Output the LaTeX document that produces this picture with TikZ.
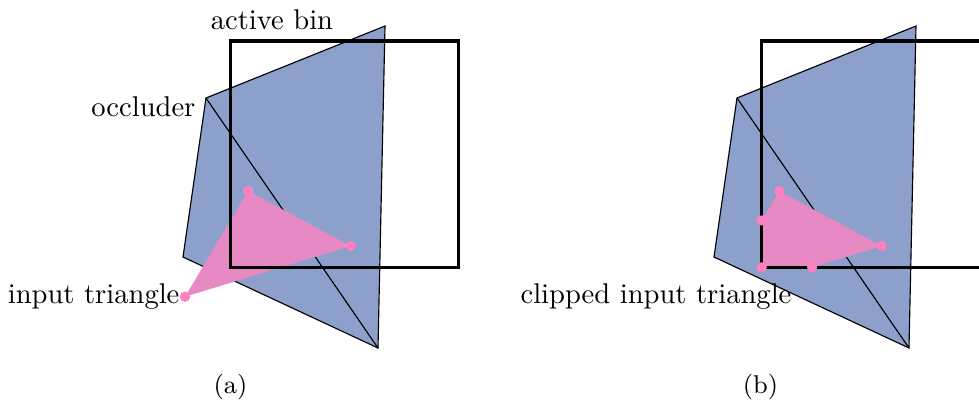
\documentclass[tikz,border=0pt]{standalone}
\usepackage{tikz}
\definecolor{occblue}{HTML}{8CA0CB}
\definecolor{tripink}{HTML}{E78AC3}
\definecolor{dotpink}{HTML}{FF80C0}
\tikzset{
  occ/.style={fill=occblue,draw=black,line width=0.4pt,line join=miter},
  diag/.style={draw=black,line width=0.4pt},
  tri/.style={fill=tripink},
  bin/.style={draw=black,line width=1.1pt},
  vdot/.style={circle,fill=dotpink,inner sep=0pt,minimum size=3.6pt},
  lbl/.style={inner sep=0pt,font=\normalsize},
  captext/.style={inner sep=0pt,font=\small}
}
\begin{document}
\begin{tikzpicture}[x=0.35pt,y=-0.35pt]
\useasboundingbox (0,0) rectangle (979,403);
% ---------- panel (a)
\coordinate (A1) at (206,98);
\coordinate (B1) at (385,26);
\coordinate (C1) at (378,348);
\coordinate (D1) at (183,257);
\fill[occ] (A1) -- (B1) -- (C1) -- (D1) -- cycle;
\draw[diag] (A1) -- (C1);
\coordinate (P1) at (248.3,191);
\coordinate (P2) at (350.7,246);
\coordinate (P3) at (185,296.7);
\fill[tri] (P1) -- (P2) -- (P3) -- cycle;
\coordinate (TL1) at (230.7,41);
\coordinate (BR1) at (458.3,267.3);
\draw[bin] (TL1) rectangle (BR1);
\node[vdot] (d11) at (P1) {};
\node[vdot] (d12) at (P2) {};
\node[vdot] (d13) at (P3) {};
\node[lbl] (lactive) at (272,20) {active bin};
\node[lbl,anchor=east] (locc) at (196,107) {occluder};
\node[lbl,anchor=east] (linput) at (180,297) {input triangle};
\node[captext] (la) at (230.5,387) {(a)};
% ---------- panel (b)
\begin{scope}[shift={(531,0)}]
\coordinate (A2) at (206,98);
\coordinate (B2) at (385,26);
\coordinate (C2) at (378,348);
\coordinate (D2) at (183,257);
\fill[occ] (A2) -- (B2) -- (C2) -- (D2) -- cycle;
\draw[diag] (A2) -- (C2);
\coordinate (Q1) at (248.3,191);
\coordinate (Q2) at (350.7,246);
\coordinate (Q3) at (185,296.7);
\coordinate (TL2) at (230.7,41);
\coordinate (BL2) at (230.7,267.3);
\coordinate (BR2) at (458.3,267.3);
\begin{scope}
\clip (TL2) rectangle (BR2);
\fill[tri] (Q1) -- (Q2) -- (Q3) -- cycle;
\end{scope}
\draw[bin] (TL2) rectangle (BR2);
\node[vdot] (d21) at (Q1) {};
\node[vdot] (d22) at (Q2) {};
\node[vdot] (d23) at (intersection of Q2--Q3 and BL2--BR2) {};
\node[vdot] (d24) at (BL2) {};
\node[vdot] (d25) at (intersection of Q1--Q3 and TL2--BL2) {};
\node[lbl] (lclip) at (125,297) {clipped input triangle};
\node[captext] (lb) at (229.5,387) {(b)};
\end{scope}
\end{tikzpicture}
\end{document}
